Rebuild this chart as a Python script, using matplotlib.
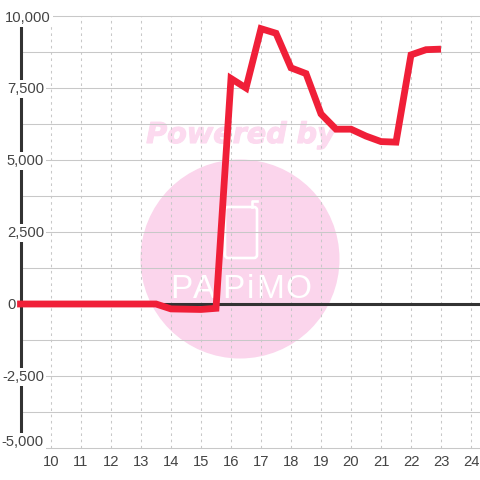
import matplotlib
matplotlib.use("Agg")
import matplotlib.pyplot as plt
import matplotlib.patheffects as pe
from matplotlib.patches import Circle, FancyBboxPatch

# hours and values
hours = [8.87, 9.5, 10, 10.5, 11, 11.5, 12, 12.5, 13, 13.5, 14, 14.5, 15, 15.5,
         16, 16.5, 17, 17.5, 18, 18.5, 19, 19.5, 20, 20.5, 21, 21.5, 22, 22.5, 23]
values = [0, 0, 0, 0, 0, 0, 0, 0, 0, 0, -170, -180, -190, -150,
          7830, 7500, 9560, 9400, 8200, 8000, 6600, 6070, 6070, 5830, 5640, 5620, 8650, 8830, 8850]
x_ticks = list(range(10, 25))
y_major = [-5000, -2500, 0, 2500, 5000, 7500, 10000]
y_minor = [-3750, -1250, 1250, 3750, 6250, 8750]
y_labels = ["-5,000", "-2,500", "0", "2,500", "5,000", "7,500", "10,000"]
# label anchors in px: right edge and centre height
label_right = [44, 44, 16, 44, 44, 44, 51]
label_mid = [442, 377, 305, 233, 161, 89, 18]

plt.rcParams['font.family'] = ['Liberation Sans', 'DejaVu Sans']
dark = "#333333"
pink = "#fbd5ec"
grid = "#c8c8c8"

fig = plt.figure(figsize=(4.8, 4.8), dpi=100, facecolor="white")

# watermark layer, in pixel coordinates
bg = fig.add_axes([0, 0, 1, 1], zorder=0)
bg.set_xlim(0, 480)
bg.set_ylim(480, 0)
bg.axis("off")
bg.add_patch(Circle((240, 259), 99.5, fc=pink, ec="none"))
bg.text(241, 135, "Powered by", color="#fcdaef", fontsize=20.6,
        family="DejaVu Sans", weight="bold", style="italic", ha="center", va="center",
        path_effects=[pe.withStroke(linewidth=0.8, foreground="#fcdaef")])
bg.add_patch(FancyBboxPatch((225, 207), 32, 51, boxstyle="round,pad=0,rounding_size=3",
                            fc="none", ec="white", lw=1.9))
bg.plot([252, 252, 257], [207, 201, 201], color="white", lw=1.9)
for cx, ch in zip([181, 204, 233, 250, 270, 298], "PAPiMO"):
    bg.text(cx, 289, ch, color="white", fontsize=24, ha="center", va="center",
            family="Liberation Sans")

# plot area runs from px 20 to 480 across and px 16 to 448 down
ax = fig.add_axes([20.5 / 480, 32 / 480, 459.5 / 480, 432 / 480], zorder=1)
ax.patch.set_alpha(0)
ax.set_xlim(10 - 30.5 / 30, 10 + 429 / 30)
ax.set_ylim(-5000, 10000)

for y in y_major + y_minor:
    ax.axhline(y, color=grid, lw=0.75, zorder=1, clip_on=False)
for x in x_ticks:
    ax.axvline(x, color=grid, lw=0.75, ls=(0, (2.5, 3.5)), zorder=1)
ax.axhline(0, color=dark, lw=2.2, zorder=2)

for s in ["top", "right", "bottom"]:
    ax.spines[s].set_visible(False)
ax.spines["left"].set_color(dark)
ax.spines["left"].set_linewidth(2.2)
ax.spines["left"].set_zorder(2)

ax.plot(hours, values, color="#f01f38", lw=4.9, zorder=3,
        solid_joinstyle="miter", solid_capstyle="butt", clip_on=False)

ax.set_xticks(x_ticks)
ax.set_yticks([])
ax.tick_params(axis="x", length=0, pad=5, labelsize=10.6, labelcolor="#444444")

for lab, px, py in zip(y_labels, label_right, label_mid):
    box = None if lab == "0" else dict(fc="white", ec="none", pad=1.2)
    fig.text(px / 480, 1 - py / 480, lab, ha="right", va="center",
             fontsize=10.6, color="#444444", zorder=5, bbox=box)

fig.savefig("out.png", dpi=100)
